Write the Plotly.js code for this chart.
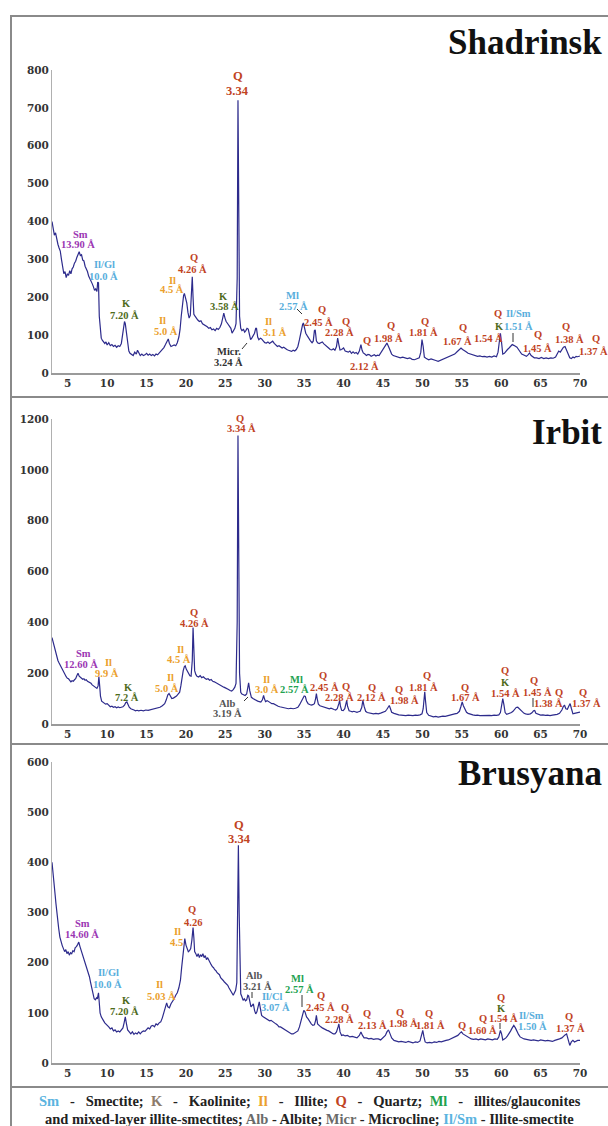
<!DOCTYPE html>
<html><head><meta charset="utf-8">
<script src="https://cdn.plot.ly/plotly-3.0.1.min.js"></script>
<style>html,body{margin:0;padding:0;background:#fff}#chart{width:608px;height:1126px}</style>
</head><body><div id="chart"></div><script>
// ---- data: [2theta, counts] ----
const shadrinskScan = [[3.0,400],[3.15,385],[3.3,364],[3.45,370],[3.6,348],[3.75,340],[3.9,330],[4.05,322],[4.2,300],[4.35,275],[4.5,262],[4.65,268],[4.8,252],[4.95,262],[5.1,258],[5.25,270],[5.4,262],[5.55,275],[5.7,280],[5.85,290],[6.0,295],[6.15,305],[6.3,312],[6.45,320],[6.6,310],[6.75,312],[6.9,298],[7.05,296],[7.2,282],[7.35,276],[7.5,268],[7.65,256],[7.8,250],[7.95,245],[8.1,236],[8.25,228],[8.4,218],[8.55,222],[8.7,215],[8.8,240],[8.9,238],[9.0,150],[9.1,115],[9.25,92],[9.4,86],[9.55,80],[9.7,78],[9.85,82],[10.0,74],[10.2,80],[10.4,72],[10.6,75],[10.8,70],[11.0,73],[11.2,68],[11.4,72],[11.6,70],[11.8,78],[11.95,100],[12.1,125],[12.2,136],[12.3,130],[12.45,105],[12.6,75],[12.75,58],[12.9,52],[13.1,50],[13.3,46],[13.5,55],[13.7,50],[13.85,60],[14.0,52],[14.2,46],[14.4,50],[14.6,46],[14.8,48],[15.0,52],[15.2,47],[15.4,50],[15.6,46],[15.8,49],[16.0,45],[16.2,50],[16.4,48],[16.6,53],[16.8,55],[17.0,60],[17.2,67],[17.4,75],[17.6,85],[17.75,90],[17.9,78],[18.1,70],[18.3,72],[18.5,74],[18.7,72],[18.9,80],[19.1,95],[19.25,115],[19.4,150],[19.55,180],[19.7,205],[19.8,210],[19.95,195],[20.1,185],[20.25,160],[20.4,145],[20.55,152],[20.7,200],[20.8,254],[20.9,200],[21.0,155],[21.15,150],[21.3,145],[21.5,140],[21.7,136],[21.9,138],[22.1,130],[22.3,128],[22.5,126],[22.7,122],[22.9,118],[23.1,120],[23.3,114],[23.5,116],[23.7,112],[23.9,118],[24.1,115],[24.3,120],[24.5,130],[24.65,150],[24.8,158],[24.95,145],[25.1,136],[25.3,130],[25.5,122],[25.7,118],[25.85,105],[26.0,110],[26.2,118],[26.35,130],[26.5,250],[26.6,720],[26.7,400],[26.8,150],[26.95,118],[27.1,112],[27.3,115],[27.45,108],[27.6,112],[27.75,118],[27.9,116],[28.05,100],[28.2,88],[28.35,92],[28.5,98],[28.7,105],[28.85,118],[28.95,118],[29.1,95],[29.25,88],[29.45,92],[29.6,90],[29.8,85],[30.0,80],[30.2,79],[30.4,82],[30.6,78],[30.8,80],[31.0,84],[31.2,78],[31.4,74],[31.6,70],[31.8,72],[32.0,68],[32.2,66],[32.4,68],[32.6,64],[32.8,62],[33.0,60],[33.2,58],[33.4,57],[33.6,60],[33.8,58],[34.0,62],[34.2,70],[34.4,88],[34.6,110],[34.8,128],[34.9,132],[35.05,120],[35.2,105],[35.4,98],[35.6,90],[35.8,85],[36.0,80],[36.15,84],[36.3,112],[36.4,114],[36.55,85],[36.7,80],[36.9,78],[37.1,80],[37.3,82],[37.5,77],[37.7,74],[37.9,70],[38.1,66],[38.3,62],[38.5,61],[38.7,64],[38.9,60],[39.1,70],[39.25,92],[39.4,75],[39.55,61],[39.75,62],[40.0,66],[40.2,58],[40.4,57],[40.6,55],[40.8,58],[41.0,52],[41.2,56],[41.4,52],[41.6,54],[41.8,50],[42.0,58],[42.2,75],[42.35,60],[42.5,53],[42.7,50],[42.9,46],[43.1,49],[43.3,48],[43.5,44],[43.7,46],[43.9,48],[44.1,45],[44.3,47],[44.5,46],[44.7,52],[44.9,58],[45.1,66],[45.3,72],[45.5,79],[45.7,70],[45.9,57],[46.1,50],[46.3,46],[46.6,44],[46.9,42],[47.2,40],[47.5,42],[47.8,39],[48.1,38],[48.4,40],[48.7,36],[49.0,35],[49.3,38],[49.6,40],[49.8,55],[49.95,88],[50.1,70],[50.25,42],[50.5,38],[50.8,35],[51.1,37],[51.4,34],[51.7,33],[52.0,31],[52.3,34],[52.6,36],[52.9,39],[53.2,42],[53.5,45],[53.8,48],[54.1,50],[54.4,56],[54.7,62],[54.9,66],[55.1,62],[55.3,60],[55.5,57],[55.8,52],[56.1,50],[56.4,48],[56.7,46],[57.0,44],[57.3,45],[57.6,43],[57.9,44],[58.2,42],[58.5,44],[58.8,42],[59.1,45],[59.4,43],[59.6,55],[59.8,100],[59.9,105],[60.05,80],[60.2,50],[60.4,52],[60.6,58],[60.8,62],[61.0,66],[61.2,72],[61.4,75],[61.6,73],[61.8,70],[62.0,68],[62.2,62],[62.4,55],[62.6,50],[62.8,48],[63.0,45],[63.2,44],[63.4,48],[63.6,53],[63.8,46],[64.0,42],[64.2,40],[64.5,40],[64.8,38],[65.1,41],[65.4,38],[65.7,40],[66.0,38],[66.3,40],[66.6,39],[66.9,42],[67.1,50],[67.3,58],[67.5,55],[67.7,62],[67.9,68],[68.1,70],[68.3,60],[68.5,48],[68.7,40],[68.9,38],[69.1,42],[69.3,40],[69.5,44],[69.7,43],[70.0,45]];

const irbitScan = [[3.0,340],[3.15,320],[3.3,300],[3.45,285],[3.6,262],[3.75,250],[3.9,240],[4.05,230],[4.2,225],[4.35,210],[4.5,200],[4.65,192],[4.8,186],[4.95,180],[5.1,178],[5.25,172],[5.4,166],[5.55,170],[5.7,168],[5.85,174],[6.0,178],[6.15,190],[6.3,200],[6.45,188],[6.6,182],[6.75,180],[6.9,176],[7.05,178],[7.2,172],[7.35,174],[7.5,168],[7.65,166],[7.8,162],[7.95,160],[8.1,154],[8.25,150],[8.4,146],[8.55,142],[8.7,140],[8.85,150],[8.95,187],[9.05,150],[9.15,110],[9.3,90],[9.45,87],[9.6,82],[9.8,78],[10.0,80],[10.2,72],[10.4,68],[10.6,70],[10.8,66],[11.0,68],[11.2,64],[11.4,67],[11.6,64],[11.8,66],[12.0,68],[12.2,74],[12.35,84],[12.5,87],[12.65,76],[12.8,66],[13.0,60],[13.2,56],[13.4,55],[13.6,52],[13.8,54],[14.0,52],[14.3,54],[14.6,52],[14.9,55],[15.2,54],[15.5,56],[15.8,58],[16.1,60],[16.4,62],[16.7,66],[17.0,72],[17.3,80],[17.5,95],[17.7,115],[17.85,120],[18.0,108],[18.2,100],[18.4,102],[18.6,106],[18.8,110],[19.0,118],[19.2,125],[19.35,150],[19.5,185],[19.65,210],[19.8,226],[19.9,229],[20.05,215],[20.2,205],[20.35,198],[20.5,190],[20.65,188],[20.8,250],[20.9,380],[21.0,300],[21.1,210],[21.25,195],[21.4,188],[21.6,185],[21.8,190],[22.0,182],[22.2,186],[22.4,180],[22.6,176],[22.8,178],[23.0,172],[23.2,175],[23.4,168],[23.6,166],[23.8,162],[24.0,160],[24.2,154],[24.4,152],[24.6,148],[24.8,145],[25.0,142],[25.2,140],[25.4,136],[25.6,132],[25.8,130],[26.0,135],[26.2,145],[26.35,160],[26.5,400],[26.6,1135],[26.7,700],[26.8,200],[26.95,125],[27.1,118],[27.3,115],[27.5,112],[27.7,118],[27.85,140],[27.95,162],[28.1,130],[28.3,105],[28.5,100],[28.7,96],[28.9,92],[29.1,90],[29.3,88],[29.5,86],[29.7,95],[29.85,113],[29.95,100],[30.1,88],[30.3,92],[30.5,88],[30.7,84],[30.9,80],[31.1,80],[31.3,76],[31.5,72],[31.7,70],[31.9,68],[32.1,66],[32.4,64],[32.7,62],[33.0,60],[33.3,62],[33.6,60],[33.9,62],[34.2,66],[34.4,75],[34.6,88],[34.8,102],[35.0,110],[35.15,108],[35.3,90],[35.5,80],[35.7,76],[35.9,74],[36.1,76],[36.3,80],[36.45,100],[36.55,120],[36.65,100],[36.8,78],[37.0,72],[37.2,70],[37.4,68],[37.6,67],[37.8,64],[38.0,62],[38.2,60],[38.4,62],[38.6,58],[38.8,57],[39.0,55],[39.2,60],[39.4,80],[39.5,93],[39.6,70],[39.75,54],[39.95,53],[40.15,60],[40.3,80],[40.4,93],[40.5,70],[40.7,52],[40.9,50],[41.1,48],[41.3,50],[41.5,47],[41.7,46],[41.9,48],[42.1,50],[42.3,65],[42.45,93],[42.6,70],[42.8,50],[43.0,45],[43.2,44],[43.5,42],[43.8,40],[44.1,42],[44.4,40],[44.7,43],[45.0,46],[45.3,50],[45.5,58],[45.7,68],[45.8,73],[45.95,60],[46.1,46],[46.4,42],[46.7,38],[47.0,36],[47.3,35],[47.6,34],[47.9,33],[48.2,35],[48.5,34],[48.8,33],[49.1,35],[49.4,34],[49.7,36],[49.95,40],[50.1,60],[50.2,100],[50.3,127],[50.4,90],[50.55,45],[50.8,34],[51.1,30],[51.4,28],[51.7,30],[52.0,27],[52.3,29],[52.6,31],[52.9,30],[53.2,33],[53.5,34],[53.8,38],[54.1,40],[54.4,42],[54.7,50],[54.9,70],[55.05,87],[55.2,72],[55.4,55],[55.6,46],[55.8,42],[56.1,38],[56.4,36],[56.7,34],[57.0,35],[57.3,33],[57.6,34],[57.9,33],[58.2,35],[58.5,34],[58.8,33],[59.1,35],[59.4,34],[59.7,36],[59.9,45],[60.05,80],[60.2,100],[60.35,75],[60.5,45],[60.7,38],[60.9,40],[61.1,42],[61.3,45],[61.5,50],[61.7,58],[61.9,65],[62.1,66],[62.3,60],[62.5,52],[62.7,46],[62.9,42],[63.1,40],[63.4,38],[63.7,40],[63.9,44],[64.1,52],[64.25,53],[64.4,42],[64.7,37],[65.0,35],[65.3,36],[65.6,34],[65.9,35],[66.2,33],[66.5,35],[66.8,36],[67.1,38],[67.4,42],[67.7,55],[67.9,70],[68.05,73],[68.2,60],[68.4,58],[68.6,72],[68.75,80],[68.9,62],[69.1,40],[69.3,42],[69.5,44],[69.7,46],[70.0,47]];

const brusyanaScan = [[3.0,400],[3.1,380],[3.2,357],[3.3,350],[3.4,335],[3.5,318],[3.6,300],[3.7,284],[3.85,268],[4.0,251],[4.15,240],[4.3,234],[4.45,228],[4.6,222],[4.75,226],[4.9,218],[5.05,222],[5.2,215],[5.35,220],[5.5,218],[5.65,224],[5.8,222],[5.95,230],[6.1,232],[6.25,236],[6.4,241],[6.55,232],[6.7,225],[6.85,218],[7.0,210],[7.15,202],[7.3,196],[7.45,188],[7.6,182],[7.75,172],[7.9,160],[8.05,148],[8.2,136],[8.35,128],[8.5,126],[8.65,130],[8.75,128],[8.9,140],[9.0,120],[9.1,100],[9.25,92],[9.4,86],[9.55,84],[9.7,80],[9.85,78],[10.0,76],[10.2,72],[10.4,68],[10.6,70],[10.8,64],[11.0,66],[11.2,62],[11.4,64],[11.6,62],[11.8,66],[12.0,70],[12.15,80],[12.3,92],[12.45,78],[12.6,66],[12.8,62],[13.0,58],[13.2,62],[13.4,57],[13.6,60],[13.8,58],[14.0,62],[14.2,58],[14.4,62],[14.6,64],[14.8,63],[15.0,66],[15.2,70],[15.4,68],[15.6,74],[15.8,75],[16.0,72],[16.2,78],[16.4,76],[16.6,80],[16.8,82],[17.0,90],[17.2,100],[17.4,115],[17.55,120],[17.7,112],[17.9,110],[18.1,118],[18.3,122],[18.5,128],[18.7,135],[18.9,140],[19.1,150],[19.3,165],[19.45,190],[19.6,215],[19.75,245],[19.85,248],[20.0,235],[20.15,230],[20.3,222],[20.45,224],[20.6,228],[20.75,245],[20.9,270],[21.0,250],[21.1,222],[21.25,218],[21.4,212],[21.55,218],[21.7,210],[21.85,216],[22.0,212],[22.15,218],[22.3,210],[22.45,214],[22.6,206],[22.75,210],[22.9,204],[23.05,200],[23.2,196],[23.35,192],[23.5,190],[23.65,186],[23.8,184],[23.95,180],[24.1,178],[24.25,176],[24.4,170],[24.55,168],[24.7,165],[24.85,162],[25.0,160],[25.15,158],[25.3,155],[25.45,150],[25.6,146],[25.75,140],[25.9,136],[26.0,135],[26.15,140],[26.3,145],[26.45,160],[26.55,300],[26.65,434],[26.75,300],[26.85,160],[26.95,138],[27.1,132],[27.25,125],[27.4,128],[27.55,124],[27.7,126],[27.85,135],[27.95,134],[28.1,118],[28.25,112],[28.4,115],[28.55,118],[28.7,105],[28.85,98],[29.0,102],[29.15,115],[29.3,122],[29.45,108],[29.6,95],[29.8,92],[30.0,90],[30.2,88],[30.4,86],[30.6,84],[30.8,85],[31.0,82],[31.2,80],[31.4,78],[31.6,76],[31.8,72],[32.0,72],[32.2,70],[32.4,68],[32.6,66],[32.8,65],[33.0,62],[33.2,60],[33.4,58],[33.6,58],[33.8,60],[34.0,62],[34.2,64],[34.4,72],[34.6,85],[34.8,98],[34.95,105],[35.1,102],[35.3,92],[35.5,88],[35.7,82],[35.9,78],[36.1,75],[36.3,76],[36.45,85],[36.55,95],[36.7,78],[36.9,74],[37.1,72],[37.3,70],[37.5,68],[37.7,66],[37.9,65],[38.1,64],[38.3,62],[38.5,60],[38.7,58],[38.9,58],[39.1,62],[39.3,72],[39.4,78],[39.55,62],[39.75,55],[39.95,56],[40.2,54],[40.5,55],[40.8,52],[41.1,53],[41.4,52],[41.7,50],[42.0,55],[42.2,62],[42.4,55],[42.6,50],[42.9,50],[43.2,48],[43.5,49],[43.8,47],[44.1,48],[44.4,48],[44.7,46],[45.0,50],[45.3,55],[45.5,62],[45.7,66],[45.9,58],[46.1,50],[46.4,45],[46.7,44],[47.0,42],[47.3,43],[47.6,42],[47.9,41],[48.2,43],[48.5,42],[48.8,40],[49.1,42],[49.4,41],[49.7,44],[49.9,55],[50.05,65],[50.2,52],[50.35,42],[50.6,40],[50.9,41],[51.2,40],[51.5,42],[51.8,41],[52.1,43],[52.4,42],[52.7,44],[53.0,45],[53.3,46],[53.6,48],[53.9,50],[54.2,52],[54.5,55],[54.8,60],[54.95,62],[55.15,58],[55.35,56],[55.5,55],[55.7,52],[55.9,50],[56.2,48],[56.5,47],[56.8,48],[57.1,46],[57.4,48],[57.7,47],[58.0,46],[58.3,48],[58.6,47],[58.9,46],[59.2,48],[59.5,47],[59.7,52],[59.9,65],[60.05,58],[60.2,46],[60.4,48],[60.6,50],[60.8,54],[61.0,58],[61.2,64],[61.4,70],[61.6,75],[61.8,70],[62.0,62],[62.2,57],[62.4,52],[62.6,50],[62.9,48],[63.2,47],[63.5,46],[63.8,45],[64.1,46],[64.4,45],[64.7,44],[65.0,46],[65.3,45],[65.6,44],[65.9,45],[66.2,44],[66.5,43],[66.8,45],[67.1,46],[67.4,48],[67.7,50],[67.9,54],[68.1,56],[68.3,58],[68.5,48],[68.7,35],[68.9,42],[69.1,45],[69.3,42],[69.5,44],[69.7,45],[70.0,45]];

const sampleNames = ['Shadrinsk', 'Irbit', 'Brusyana'];
const xTicks = [5,10,15,20,25,30,35,40,45,50,55,60,65,70];
const yRanges = [[0,800],[0,1200],[0,600]];
const yDticks = [100, 200, 100];

// peak labels: [text, mineral, label centre px x, px y]
const shadLabels = [['Sm','Sm',80,234],['13.90 Å','Sm',78,245],['Il/Gl','lb',104,265],['10.0 Å','lb',103,276],['K','K',126,304],['7.20 Å','K',125,316],['Il','Il',162,320],['5.0 Å','Il',166,331],['Il','Il',172,280],['4.5 Å','Il',172,290],['Q','Q',194,258],['4.26 Å','Q',192,269],['K','K',223,296],['3.58 Å','K',224,306],['Micr.','gr',229,352],['3.24 Å','gr',228,362],['Il','Il',268,321],['3.1 Å','Il',275,332],['Ml','lb',292,295],['2.57 Å','lb',293,306],['Q','Q',322,309],['2.45 Å','Q',318,322],['Q','Q',346,321],['2.28 Å','Q',339,333],['Q','Q',367,341],['2.12 Å','Q',364,367],['Q','Q',391,325],['1.98 Å','Q',388,338],['Q','Q',425,321],['1.81 Å','Q',424,333],['Q','Q',463,328],['1.67 Å','Q',457,342],['1.54 Å','Q',488,338],['Q','Q',498,313],['K','K',499,326],['Il/Sm','lb',518,313],['1.51 Å','lb',518,326],['Q','Q',538,334],['1.45 Å','Q',537,348],['Q','Q',566,327],['1.38 Å','Q',569,339],['Q','Q',596,338],['1.37 Å','Q',593,352],['Q','Qb',238,76],['3.34','Qb',237,91]];
const irbLabels = [['Sm','Sm',83,653],['12.60 Å','Sm',81,664],['Il','Il',108,662],['9.9 Å','Il',107,673],['K','K',128,687],['7.2 Å','K',127,697],['Il','Il',170,677],['5.0 Å','Il',167,688],['Il','Il',180,649],['4.5 Å','Il',179,659],['Q','Q',194,612],['4.26 Å','Q',194,623],['Alb','gr2',227,703],['3.19 Å','gr2',227,713],['Il','Il',266,679],['3.0 Å','Il',267,689],['Ml','Ml',296,679],['2.57 Å','Ml',294,689],['Q','Q',240,418],['3.34 Å','Q',241,429],['Q','Q',323,675],['2.45 Å','Q',324,687],['Q','Q',346,686],['2.28 Å','Q',339,697],['Q','Q',372,687],['2.12 Å','Q',371,697],['Q','Q',399,689],['1.98 Å','Q',405,700],['Q','Q',427,675],['1.81 Å','Q',424,687],['Q','Q',465,687],['1.67 Å','Q',465,697],['Q','Q',505,670],['K','K',505,682],['1.54 Å','Q',505,693],['Q','Q',534,680],['1.45 Å','Q',537,692],['Q','Q',559,692],['1.38 Å','Q',548,703],['Q','Q',583,692],['1.37 Å','Q',586,703]];
const brusLabels = [['Sm','Sm',82,923],['14.60 Å','Sm',82,934],['Il/Gl','lb',108,972],['10.0 Å','lb',107,985],['K','K',126,1000],['7.20 Å','K',125,1011],['Il','Il',159,985],['5.03 Å','Il',161,996],['Il','Il',177,931],['4.5','Il',176,942],['Q','Q',192,910],['4.26','Q',193,922],['Q','Qb',239,825],['3.34','Qb',239,839],['Alb','gr2',254,975],['3.21 Å','gr2',257,986],['Il/Cl','lb',272,996],['3.07 Å','lb',275,1007],['Ml','Ml',297,978],['2.57 Å','Ml',299,989],['Q','Q',321,995],['2.45 Å','Q',320,1007],['Q','Q',345,1007],['2.28 Å','Q',339,1019],['Q','Q',367,1013],['2.13 Å','Q',372,1025],['Q','Q',400,1012],['1.98 Å','Q',403,1023],['Q','Q',429,1013],['1.81 Å','Q',430,1025],['Q','Q',462,1025],['Q','Q',483,1018],['1.60 Å','Q',482,1030],['1.54 Å','Q',503,1018],['Q','Q',501,997],['K','K',501,1008],['Il/Sm','lb',531,1015],['1.50 Å','lb',532,1026],['Q','Q',569,1016],['1.37 Å','Q',570,1028]];
const pointerLines = [[242,349,247,343],[297,309,302,314],[513,333,513,342],[244,701,248,697],[533,698,533,707],[252,992,252,998],[302,995,302,1007],[500,1023,500,1029]];

const dash = '&nbsp;&nbsp;&nbsp;-&nbsp;&nbsp;&nbsp;';
const legendLine1 = '<span style="color:#5ab4e0">Sm</span>' + dash + 'Smectite;&nbsp;&nbsp;<span style="color:#8c7b6b">K</span>' + dash + 'Kaolinite;&nbsp;&nbsp;<span style="color:#eba02d">Il</span>' + dash + 'Illite;&nbsp;&nbsp;<span style="color:#c1441f">Q</span>' + dash + 'Quartz;&nbsp;&nbsp;<span style="color:#22a24f">Ml</span>' + dash + 'illites/glauconites';
const legendLine2 = 'and mixed-layer illite-smectites; <span style="color:#6a6a6a">Alb</span> - Albite; <span style="color:#6a6a6a">Micr</span> - Microcline; <span style="color:#5ab4e0">Il/Sm</span> - Illite-smectite';

// ---- styles ----
const W = 608, H = 1126;
const colors = {Q:'#c1441f', Qb:'#c1441f', Il:'#eba02d', K:'#4f6b1c', Sm:'#9b36b3', lb:'#58aedc', Ml:'#22a24f', gr:'#333333', gr2:'#555555'};
const px = v => v / W, py = v => 1 - v / H;
const xDomain = [px(52), px(580)];
const yDomains = [[py(373), py(70)], [py(724), py(419)], [py(1063), py(762)]];
const scans = [shadrinskScan, irbitScan, brusyanaScan];
const tickFont = {family:'DejaVu Serif', size:10.5, color:'#333', weight:'bold'};

const traces = scans.map((s, i) => ({
  type:'scatter', mode:'lines',
  x: s.map(p => p[0]), y: s.map(p => p[1]),
  xaxis: i === 0 ? 'x' : 'x' + (i + 1), yaxis: i === 0 ? 'y' : 'y' + (i + 1),
  line:{color:'#2d2b8c', width:1.2}, hoverinfo:'skip', showlegend:false
}));

const layout = {
  width:W, height:H, margin:{l:0,r:0,t:0,b:0},
  paper_bgcolor:'#fff', plot_bgcolor:'rgba(0,0,0,0)', showlegend:false,
  annotations:[], shapes:[]
};
for (let i = 0; i < 3; i++) {
  const sx = i === 0 ? '' : String(i + 1);
  layout['xaxis' + sx] = {domain:xDomain, range:[3,70], anchor:'y' + sx, tickvals:xTicks, ticks:'',
    showline:true, linecolor:'#9a9a9a', linewidth:1.5, showgrid:false, zeroline:false, tickfont:tickFont, fixedrange:true};
  layout['yaxis' + sx] = {domain:yDomains[i], range:yRanges[i], anchor:'x' + sx, dtick:yDticks[i], tick0:0, ticks:'',
    showline:true, linecolor:'#b0b0b0', linewidth:1, showgrid:false, zeroline:false, tickfont:tickFont, fixedrange:true};
}
const titlePos = [42, 432, 773];
sampleNames.forEach((n, i) => layout.annotations.push({
  text:n, xref:'paper', yref:'paper', x:px(604), y:py(titlePos[i]), xanchor:'right', yanchor:'middle', showarrow:false,
  font:{family:'Liberation Serif', size:35, color:'#111', weight:'bold'}
}));
[shadLabels, irbLabels, brusLabels].forEach(list => list.forEach(l => layout.annotations.push({
  text:l[0], xref:'paper', yref:'paper', x:px(l[2]), y:py(l[3]), xanchor:'center', yanchor:'middle', showarrow:false,
  font:{family:'Liberation Serif', size: l[1] === 'Qb' ? 12.5 : 10.5, color:colors[l[1]], weight:'bold'}
})));
pointerLines.forEach(p => layout.shapes.push({type:'line', xref:'paper', yref:'paper', x0:px(p[0]), y0:py(p[1]), x1:px(p[2]), y1:py(p[3]), line:{color:'#333', width:1}}));
// frame
layout.shapes.push({type:'rect', xref:'paper', yref:'paper', x0:px(11), y0:-0.05, x1:1.05, y1:py(16), line:{color:'#8a8a8a', width:2}});
[397, 744, 1087].forEach(yy => layout.shapes.push({type:'line', xref:'paper', yref:'paper', x0:px(11), x1:1.05, y0:py(yy), y1:py(yy), line:{color:'#8a8a8a', width:2}}));
[[legendLine1, 1101], [legendLine2, 1119]].forEach(l => layout.annotations.push({
  text:l[0], xref:'paper', yref:'paper', x:px(310), y:py(l[1]), xanchor:'center', yanchor:'middle', showarrow:false,
  font:{family:'Liberation Serif', size:14.5, color:'#222', weight:'bold'}
}));

Plotly.newPlot('chart', traces, layout, {staticPlot:true, displayModeBar:false});
</script></body></html>
